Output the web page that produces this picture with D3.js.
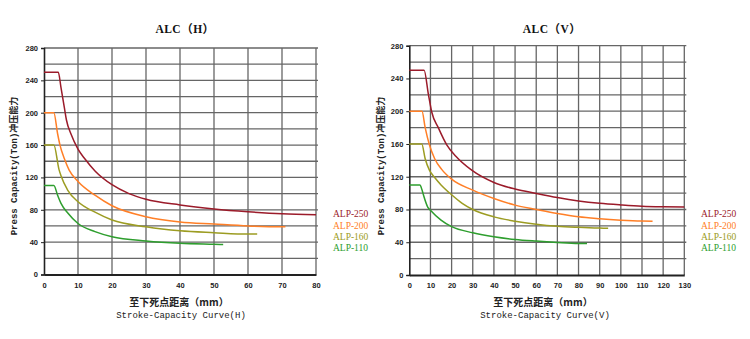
<!DOCTYPE html>
<html><head><meta charset="utf-8">
<script src="https://cdn.jsdelivr.net/npm/d3@7"></script>
<style>body{margin:0;background:#fff}svg{display:block}</style>
</head><body><svg id="c" width="750" height="339"></svg>
<script>
const seriesNames = ["ALP-250","ALP-200","ALP-160","ALP-110"];
const seriesColors = ["#9b1b2a","#ff7f27","#9c9c22","#2e9e2e"];
const yTicks = [0,40,80,120,160,200,240,280];

// ALC (H)
const h250x = [0,4.2,5,6,6.6,8,10,12,15,20,25,30,40,50,60,70,80];
const h250y = [250,250,231,206,191,173,155,143,128,111,100,93,86,81,77.5,75,74];
const h200x = [0,2.9,4,4.7,6,7.4,10,15,20,30,40,50,60,70,71];
const h200y = [200,200,174,160,143,129,115,98,85,71.5,65,62.4,60,59,59];
const h160x = [0,2.9,4.4,5,7,10,15,20,30,40,50,60,62.7];
const h160y = [160,160,130,122,104,90,77,67.4,59,54,51.7,50,50];
const h110x = [0,2.9,4,5,7,10,15,20,30,40,50,52.7];
const h110y = [110,110,98,88,76,63,53,46.7,41.4,38.5,37.3,37];
const hXTicks = [0,10,20,30,40,50,60,70,80];

// ALC (V)
const v250x = [0,7,9,10.6,13.7,17.7,22,29.5,40,50,60,70,80,90,100,110,120,130];
const v250y = [250,250,221,199,180,159,145,128,113,105,99.6,94.6,90.5,87.6,85.6,84,83.3,83];
const v200x = [0,6,7.5,9.5,12,15.3,20,30,40,50,60,70,80,90,100,110,115];
const v200y = [200,200,180,159,142,129,117,103.6,93.4,85.3,80,75,71,68.7,67,65.8,65.5];
const v160x = [0,5.9,7.5,9.5,12,15,20,25,30,40,50,60,70,80,90,94];
const v160y = [160,160,142,128,119,110,98,87.5,80,71,65.7,62,59.5,58.2,57.3,57];
const v110x = [0,5,6,6.7,8.7,10,15,20,30,40,50,60,70,80,84];
const v110y = [110,110,104,97.6,83,79,67,59,51.6,46.7,43.4,41.4,39.8,38.6,38.5];
const vXTicks = [0,10,20,30,40,50,60,70,80,90,100,110,120,130];

const svg = d3.select("#c");
const zip = (xs, ys) => xs.map((x,i)=>[x, ys[i]]);

function chart(cfg){
  const g = svg.append("g");
  const x = d3.scaleLinear().domain([0, cfg.xmax]).range([cfg.x0, cfg.x1]);
  const y = d3.scaleLinear().domain([0, 280]).range([cfg.y0, cfg.y1]);
  // grid
  g.append("g").selectAll("line").data(d3.range(20, 281, 20)).join("line")
    .attr("x1", cfg.x0).attr("x2", cfg.x1 + 2)
    .attr("y1", d=>y(d)).attr("y2", d=>y(d))
    .attr("stroke", "#666").attr("stroke-width", 1.3);
  g.append("g").selectAll("line").data(cfg.xticks.slice(1)).join("line")
    .attr("x1", d=>x(d)).attr("x2", d=>x(d))
    .attr("y1", cfg.y0).attr("y2", cfg.y1)
    .attr("stroke", "#666").attr("stroke-width", 1.3);
  // axes
  const ya = d3.axisLeft(y).tickValues(yTicks).tickSize(3).tickPadding(3);
  const yg = g.append("g").attr("transform", `translate(${cfg.x0},0)`).call(ya);
  yg.select(".domain").attr("stroke","#222").attr("stroke-width",1.6);
  yg.selectAll(".tick line").attr("stroke","#222");
  yg.selectAll("text").attr("font-family","Liberation Sans").attr("font-weight","bold")
    .attr("font-size","7.5px").attr("fill","#222");
  const xa = d3.axisBottom(x).tickValues(cfg.xticks).tickSize(0).tickPadding(8);
  const xg = g.append("g").attr("transform", `translate(0,${cfg.y0})`).call(xa);
  xg.select(".domain").attr("stroke","#222").attr("stroke-width",1.8);
  xg.selectAll("text").attr("font-family","Liberation Sans").attr("font-weight","bold")
    .attr("font-size","7.5px").attr("fill","#222");
  // lines
  const line = d3.line().x(d=>x(d[0])).y(d=>y(d[1])).curve(d3.curveMonotoneX);
  cfg.series.forEach((s,i)=>{
    g.append("path").attr("d", line(s)).attr("fill","none")
      .attr("stroke", seriesColors[i]).attr("stroke-width", 1.5);
  });
  // legend
  const ly = [214, 226, 237, 248];
  seriesNames.forEach((n,i)=>{
    g.append("text").attr("x", cfg.legX).attr("y", ly[i]).attr("dy","0.35em")
      .attr("font-family","Liberation Serif").attr("font-size","9.5px")
      .attr("fill", seriesColors[i]).text(n);
  });
  // title
  g.append("text").attr("x", cfg.titleX).attr("y", 29).attr("dy","0.35em")
    .attr("text-anchor","middle").attr("font-family","Liberation Serif, Noto Sans CJK SC")
    .attr("font-weight","bold").attr("font-size","11.5px").attr("letter-spacing","0.5px")
    .attr("fill","#111").text(cfg.title);
  // y label
  g.append("text").attr("transform", `translate(${cfg.ylabX},${cfg.ylabY}) rotate(-90)`)
    .attr("text-anchor","middle").attr("dy","0.35em")
    .attr("font-family","Liberation Mono, Noto Sans CJK SC").attr("font-weight","bold")
    .attr("font-size","9px").attr("fill","#222").text("Press Capacity(Ton)冲压能力");
  // x labels
  g.append("text").attr("x", cfg.xlabX).attr("y", 302).attr("dy","0.35em")
    .attr("text-anchor","middle").attr("font-family","Noto Sans CJK SC")
    .attr("font-weight","bold").attr("font-size","10px").attr("fill","#222").text("至下死点距离（mm）");
  g.append("text").attr("x", cfg.xlabX + 2).attr("y", 315).attr("dy","0.35em")
    .attr("text-anchor","middle").attr("font-family","Liberation Mono")
    .attr("font-size","9px").attr("fill","#222").text(cfg.sub);
}

chart({xmax:80, x0:44, x1:316, y0:274.5, y1:48, xticks:hXTicks,
  series:[zip(h250x,h250y),zip(h200x,h200y),zip(h160x,h160y),zip(h110x,h110y)],
  legX:333, titleX:185, title:"ALC（H）", ylabX:14, ylabY:166, xlabX:179, sub:"Stroke-Capacity Curve(H)"});
chart({xmax:130, x0:409.3, x1:684.3, y0:275, y1:45.7, xticks:vXTicks,
  series:[zip(v250x,v250y),zip(v200x,v200y),zip(v160x,v160y),zip(v110x,v110y)],
  legX:701, titleX:552, title:"ALC（V）", ylabX:381, ylabY:166, xlabX:543, sub:"Stroke-Capacity Curve(V)"});
</script></body></html>
